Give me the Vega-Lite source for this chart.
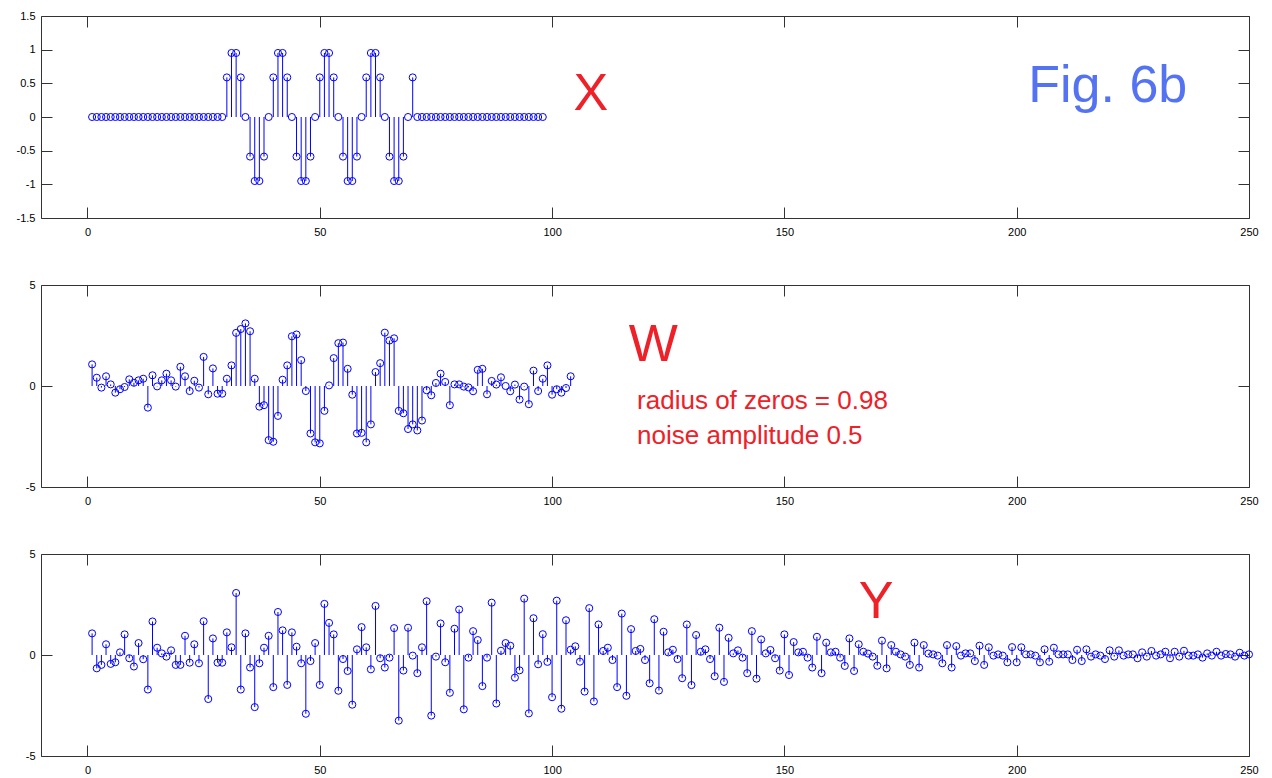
{
"$schema": "https://vega.github.io/schema/vega-lite/v6.json",
"padding": {"left": 15, "top": 9, "right": 5, "bottom": 0},
"background": "white",
"spacing": 67,
"bounds": "flush",
"config": {
  "view": {"stroke": "#333", "strokeWidth": 1},
  "axis": {"domain": false, "grid": false, "tickSize": -11, "tickColor": "#333", "labelFont": "Liberation Sans", "labelFontSize": 11, "labelColor": "#000", "labelFlush": false, "labelOverlap": false, "labelExpr": "toString(datum.value)"},
  "axisBottom": {"labelPadding": 19},
  "axisLeft": {"labelPadding": 17},
  "text": {"font": "Liberation Sans", "align": "left", "baseline": "alphabetic"}
},
"datasets": {
"X": [{"n":1,"v":0},{"n":2,"v":0},{"n":3,"v":0},{"n":4,"v":0},{"n":5,"v":0},{"n":6,"v":0},{"n":7,"v":0},{"n":8,"v":0},{"n":9,"v":0},{"n":10,"v":0},{"n":11,"v":0},{"n":12,"v":0},{"n":13,"v":0},{"n":14,"v":0},{"n":15,"v":0},{"n":16,"v":0},{"n":17,"v":0},{"n":18,"v":0},{"n":19,"v":0},{"n":20,"v":0},{"n":21,"v":0},{"n":22,"v":0},{"n":23,"v":0},{"n":24,"v":0},{"n":25,"v":0},{"n":26,"v":0},{"n":27,"v":0},{"n":28,"v":0},{"n":29,"v":0},
{"n":30,"v":0.588},{"n":31,"v":0.951},{"n":32,"v":0.951},{"n":33,"v":0.588},{"n":34,"v":0},{"n":35,"v":-0.588},{"n":36,"v":-0.951},{"n":37,"v":-0.951},{"n":38,"v":-0.588},{"n":39,"v":0},
{"n":40,"v":0.588},{"n":41,"v":0.951},{"n":42,"v":0.951},{"n":43,"v":0.588},{"n":44,"v":0},{"n":45,"v":-0.588},{"n":46,"v":-0.951},{"n":47,"v":-0.951},{"n":48,"v":-0.588},{"n":49,"v":0},
{"n":50,"v":0.588},{"n":51,"v":0.951},{"n":52,"v":0.951},{"n":53,"v":0.588},{"n":54,"v":0},{"n":55,"v":-0.588},{"n":56,"v":-0.951},{"n":57,"v":-0.951},{"n":58,"v":-0.588},{"n":59,"v":0},
{"n":60,"v":0.588},{"n":61,"v":0.951},{"n":62,"v":0.951},{"n":63,"v":0.588},{"n":64,"v":0},{"n":65,"v":-0.588},{"n":66,"v":-0.951},{"n":67,"v":-0.951},{"n":68,"v":-0.588},{"n":69,"v":0},
{"n":70,"v":0.588},{"n":71,"v":0},{"n":72,"v":0},{"n":73,"v":0},{"n":74,"v":0},{"n":75,"v":0},{"n":76,"v":0},{"n":77,"v":0},{"n":78,"v":0},{"n":79,"v":0},{"n":80,"v":0},{"n":81,"v":0},{"n":82,"v":0},{"n":83,"v":0},{"n":84,"v":0},{"n":85,"v":0},{"n":86,"v":0},{"n":87,"v":0},{"n":88,"v":0},{"n":89,"v":0},{"n":90,"v":0},{"n":91,"v":0},{"n":92,"v":0},{"n":93,"v":0},{"n":94,"v":0},{"n":95,"v":0},{"n":96,"v":0},{"n":97,"v":0},{"n":98,"v":0}],
"W": [{"n":1,"v":1.07},{"n":2,"v":0.41},{"n":3,"v":-0.08},{"n":4,"v":0.48},{"n":5,"v":0.08},{"n":6,"v":-0.33},{"n":7,"v":-0.16},{"n":8,"v":-0.05},{"n":9,"v":0.33},{"n":10,"v":0.16},
{"n":11,"v":0.28},{"n":12,"v":0.36},{"n":13,"v":-1.07},{"n":14,"v":0.53},{"n":15,"v":-0.02},{"n":16,"v":0.28},{"n":17,"v":0.61},{"n":18,"v":0.28},{"n":19,"v":-0.03},{"n":20,"v":0.95},
{"n":21,"v":0.48},{"n":22,"v":-0.25},{"n":23,"v":0.26},{"n":24,"v":-0.08},{"n":25,"v":1.44},{"n":26,"v":-0.41},{"n":27,"v":0.87},{"n":28,"v":-0.38},{"n":29,"v":-0.38},{"n":30,"v":0.36},
{"n":31,"v":1.02},{"n":32,"v":2.63},{"n":33,"v":2.82},{"n":34,"v":3.10},{"n":35,"v":2.71},{"n":36,"v":0.36},{"n":37,"v":-1.02},{"n":38,"v":-0.95},{"n":39,"v":-2.68},{"n":40,"v":-2.76},
{"n":41,"v":-1.48},{"n":42,"v":0.31},{"n":43,"v":1.02},{"n":44,"v":2.46},{"n":45,"v":2.55},{"n":46,"v":1.28},{"n":47,"v":-0.25},{"n":48,"v":-2.35},{"n":49,"v":-2.79},{"n":50,"v":-2.84},
{"n":51,"v":-1.23},{"n":52,"v":0.03},{"n":53,"v":1.38},{"n":54,"v":2.12},{"n":55,"v":2.15},{"n":56,"v":0.85},{"n":57,"v":-0.43},{"n":58,"v":-2.35},{"n":59,"v":-2.32},{"n":60,"v":-2.79},
{"n":61,"v":-1.90},{"n":62,"v":0.69},{"n":63,"v":1.13},{"n":64,"v":2.64},{"n":65,"v":2.25},{"n":66,"v":2.36},{"n":67,"v":-1.23},{"n":68,"v":-1.35},{"n":69,"v":-2.13},{"n":70,"v":-1.90},
{"n":71,"v":-2.20},{"n":72,"v":-1.71},{"n":73,"v":-0.21},{"n":74,"v":-0.46},{"n":75,"v":0.15},{"n":76,"v":0.61},{"n":77,"v":0.20},{"n":78,"v":-0.95},{"n":79,"v":0.08},{"n":80,"v":0.08},
{"n":81,"v":-0.03},{"n":82,"v":-0.07},{"n":83,"v":-0.26},{"n":84,"v":0.80},{"n":85,"v":0.85},{"n":86,"v":-0.41},{"n":87,"v":0.25},{"n":88,"v":0.07},{"n":89,"v":0.43},{"n":90,"v":0.00},
{"n":91,"v":-0.26},{"n":92,"v":0.07},{"n":93,"v":-0.67},{"n":94,"v":-0.03},{"n":95,"v":-0.90},{"n":96,"v":0.76},{"n":97,"v":-0.25},{"n":98,"v":0.36},{"n":99,"v":1.02},{"n":100,"v":-0.43},
{"n":101,"v":-0.16},{"n":102,"v":-0.33},{"n":103,"v":-0.10},{"n":104,"v":0.48}],
"Y": [{"n":1,"v":1.07},{"n":2,"v":-0.66},{"n":3,"v":-0.49},{"n":4,"v":0.53},{"n":5,"v":-0.44},{"n":6,"v":-0.36},{"n":7,"v":0.13},{"n":8,"v":1.02},{"n":9,"v":-0.16},{"n":10,"v":-0.57},
{"n":11,"v":0.59},{"n":12,"v":-0.21},{"n":13,"v":-1.71},{"n":14,"v":1.66},{"n":15,"v":0.36},{"n":16,"v":0.08},{"n":17,"v":-0.08},{"n":18,"v":0.23},{"n":19,"v":-0.49},{"n":20,"v":-0.49},
{"n":21,"v":0.95},{"n":22,"v":-0.38},{"n":23,"v":0.53},{"n":24,"v":-0.41},{"n":25,"v":1.67},{"n":26,"v":-2.18},{"n":27,"v":0.82},{"n":28,"v":-0.38},{"n":29,"v":-0.38},{"n":30,"v":1.12},
{"n":31,"v":0.38},{"n":32,"v":3.07},{"n":33,"v":-1.71},{"n":34,"v":1.07},{"n":35,"v":-0.62},{"n":36,"v":-2.58},{"n":37,"v":-0.41},{"n":38,"v":0.36},{"n":39,"v":0.95},{"n":40,"v":-1.59},
{"n":41,"v":2.13},{"n":42,"v":1.22},{"n":43,"v":-1.48},{"n":44,"v":1.12},{"n":45,"v":0.41},{"n":46,"v":-0.41},{"n":47,"v":-2.91},{"n":48,"v":-0.30},{"n":49,"v":0.59},{"n":50,"v":-1.48},
{"n":51,"v":2.53},{"n":52,"v":1.59},{"n":53,"v":1.02},{"n":54,"v":-1.77},{"n":55,"v":-0.20},{"n":56,"v":-0.79},{"n":57,"v":-2.46},{"n":58,"v":0.28},{"n":59,"v":1.38},{"n":60,"v":0.38},
{"n":61,"v":-0.71},{"n":62,"v":2.43},{"n":63,"v":-0.16},{"n":64,"v":-0.62},{"n":65,"v":-0.13},{"n":66,"v":1.33},{"n":67,"v":-3.25},{"n":68,"v":-0.77},{"n":69,"v":1.35},{"n":70,"v":-0.03},
{"n":71,"v":-0.90},{"n":72,"v":0.38},{"n":73,"v":2.66},{"n":74,"v":-3.00},{"n":75,"v":-0.08},{"n":76,"v":1.56},{"n":77,"v":-0.36},{"n":78,"v":-1.87},{"n":79,"v":1.30},{"n":80,"v":2.25},
{"n":81,"v":-2.69},{"n":82,"v":-0.13},{"n":83,"v":1.18},{"n":84,"v":0.74},{"n":85,"v":-1.54},{"n":86,"v":-0.13},{"n":87,"v":2.59},{"n":88,"v":-2.40},{"n":89,"v":0.21},{"n":90,"v":0.59},
{"n":91,"v":0.46},{"n":92,"v":-1.12},{"n":93,"v":-0.76},{"n":94,"v":2.79},{"n":95,"v":-2.89},{"n":96,"v":1.82},{"n":97,"v":-0.46},{"n":98,"v":1.03},{"n":99,"v":-0.34},{"n":100,"v":-2.09},
{"n":101,"v":2.69},{"n":102,"v":-2.66},{"n":103,"v":1.72},{"n":104,"v":0.26},{"n":105,"v":0.43},{"n":106,"v":-0.33},{"n":107,"v":-1.81},{"n":108,"v":2.32},{"n":109,"v":-2.30},{"n":110,"v":1.51},
{"n":111,"v":0.20},{"n":112,"v":0.36},{"n":113,"v":-0.25},{"n":114,"v":-1.59},{"n":115,"v":2.05},{"n":116,"v":-2.02},{"n":117,"v":1.28},{"n":118,"v":0.20},{"n":119,"v":0.30},{"n":120,"v":-0.25},
{"n":121,"v":-1.40},{"n":122,"v":1.77},{"n":123,"v":-1.76},{"n":124,"v":1.15},{"n":125,"v":0.13},{"n":126,"v":0.26},{"n":127,"v":-0.20},{"n":128,"v":-1.15},{"n":129,"v":1.51},{"n":130,"v":-1.49},
{"n":131,"v":0.99},{"n":132,"v":0.16},{"n":133,"v":0.28},{"n":134,"v":-0.20},{"n":135,"v":-1.05},{"n":136,"v":1.35},{"n":137,"v":-1.33},{"n":138,"v":0.85},{"n":139,"v":0.08},{"n":140,"v":0.23},
{"n":141,"v":-0.13},{"n":142,"v":-0.90},{"n":143,"v":1.18},{"n":144,"v":-1.17},{"n":145,"v":0.77},{"n":146,"v":0.08},{"n":147,"v":0.25},{"n":148,"v":-0.16},{"n":149,"v":-0.77},{"n":150,"v":1.02},
{"n":151,"v":-0.99},{"n":152,"v":0.64},{"n":153,"v":0.13},{"n":154,"v":0.16},{"n":155,"v":-0.13},{"n":156,"v":-0.62},{"n":157,"v":0.90},{"n":158,"v":-0.90},{"n":159,"v":0.61},{"n":160,"v":0.13},
{"n":161,"v":0.16},{"n":162,"v":-0.13},{"n":163,"v":-0.54},{"n":164,"v":0.82},{"n":165,"v":-0.79},{"n":166,"v":0.53},{"n":167,"v":0.16},{"n":168,"v":0.07},{"n":169,"v":-0.08},{"n":170,"v":-0.53},
{"n":171,"v":0.71},{"n":172,"v":-0.66},{"n":173,"v":0.49},{"n":174,"v":0.16},{"n":175,"v":0.03},{"n":176,"v":-0.08},{"n":177,"v":-0.49},{"n":178,"v":0.61},{"n":179,"v":-0.62},{"n":180,"v":0.49},
{"n":181,"v":0.07},{"n":182,"v":0.03},{"n":183,"v":-0.03},{"n":184,"v":-0.41},{"n":185,"v":0.49},{"n":186,"v":-0.62},{"n":187,"v":0.44},{"n":188,"v":-0.03},{"n":189,"v":0.08},{"n":190,"v":0.08},
{"n":191,"v":-0.30},{"n":192,"v":0.46},{"n":193,"v":-0.49},{"n":194,"v":0.38},{"n":195,"v":-0.03},{"n":196,"v":0.03},{"n":197,"v":-0.03},{"n":198,"v":-0.36},{"n":199,"v":0.39},{"n":200,"v":-0.36},
{"n":201,"v":0.38},{"n":202,"v":0.03},{"n":203,"v":0.03},{"n":204,"v":-0.03},{"n":205,"v":-0.36},{"n":206,"v":0.28},{"n":207,"v":-0.33},{"n":208,"v":0.36},{"n":209,"v":0.03},{"n":210,"v":0.03},
{"n":211,"v":0.03},{"n":212,"v":-0.25},{"n":213,"v":0.26},{"n":214,"v":-0.30},{"n":215,"v":0.28},{"n":216,"v":-0.08},{"n":217,"v":0.03},{"n":218,"v":-0.03},{"n":219,"v":-0.20},{"n":220,"v":0.23},
{"n":221,"v":-0.08},{"n":222,"v":0.23},{"n":223,"v":-0.03},{"n":224,"v":0.03},{"n":225,"v":0.03},{"n":226,"v":-0.16},{"n":227,"v":0.13},{"n":228,"v":-0.08},{"n":229,"v":0.20},{"n":230,"v":-0.03},
{"n":231,"v":0.03},{"n":232,"v":0.16},{"n":233,"v":-0.16},{"n":234,"v":0.16},{"n":235,"v":-0.08},{"n":236,"v":0.21},{"n":237,"v":-0.03},{"n":238,"v":-0.03},{"n":239,"v":0.03},{"n":240,"v":-0.13},
{"n":241,"v":0.08},{"n":242,"v":-0.03},{"n":243,"v":0.16},{"n":244,"v":-0.03},{"n":245,"v":0.05},{"n":246,"v":0.03},{"n":247,"v":-0.08},{"n":248,"v":0.11},{"n":249,"v":-0.03},{"n":250,"v":0.03}]
},
"vconcat": [
{
  "width": 1208, "height": 202,
  "data": {"name": "X"},
  "layer": [
    {"mark": {"type": "rule", "color": "blue", "strokeWidth": 1},
     "encoding": {
       "x": {"field": "n", "type": "quantitative", "scale": {"domain": [-10, 250], "nice": false, "zero": false}, "axis": {"orient": "bottom", "values": [0, 50, 100, 150, 200, 250], "title": null}},
       "y": {"field": "v", "type": "quantitative", "scale": {"domain": [-1.5, 1.5], "nice": false}, "axis": {"orient": "left", "values": [-1.5, -1, -0.5, 0, 0.5, 1, 1.5], "title": null}},
       "y2": {"datum": 0}}},
    {"mark": {"type": "point", "shape": "circle", "filled": false, "color": "blue", "size": 50, "strokeWidth": 1, "opacity": 1},
     "encoding": {
       "x": {"field": "n", "type": "quantitative", "axis": {"orient": "top", "values": [0, 50, 100, 150, 200, 250], "labels": false, "title": null}},
       "y": {"field": "v", "type": "quantitative", "axis": {"orient": "right", "values": [-1.5, -1, -0.5, 0, 0.5, 1, 1.5], "labels": false, "title": null}}}},
    {"data": {"values": [{"n": 104.6, "v": 0.10, "t": "X", "c": "r"}, {"n": 202.5, "v": 0.227, "t": "Fig. 6b", "c": "b"}]},
     "mark": {"type": "text", "fontSize": 52},
     "encoding": {
       "x": {"field": "n", "type": "quantitative", "axis": null},
       "y": {"field": "v", "type": "quantitative", "axis": null},
       "text": {"field": "t"},
       "color": {"field": "c", "type": "nominal", "scale": {"domain": ["r", "b"], "range": ["#ee2028", "#5373f2"]}, "legend": null}}}
  ],
  "resolve": {"axis": {"x": "independent", "y": "independent"}}
},
{
  "width": 1208, "height": 202,
  "data": {"name": "W"},
  "layer": [
    {"mark": {"type": "rule", "color": "blue", "strokeWidth": 1},
     "encoding": {
       "x": {"field": "n", "type": "quantitative", "scale": {"domain": [-10, 250], "nice": false, "zero": false}, "axis": {"orient": "bottom", "values": [0, 50, 100, 150, 200, 250], "title": null}},
       "y": {"field": "v", "type": "quantitative", "scale": {"domain": [-5, 5], "nice": false}, "axis": {"orient": "left", "values": [-5, 0, 5], "title": null}},
       "y2": {"datum": 0}}},
    {"mark": {"type": "point", "shape": "circle", "filled": false, "color": "blue", "size": 50, "strokeWidth": 1, "opacity": 1},
     "encoding": {
       "x": {"field": "n", "type": "quantitative", "axis": {"orient": "top", "values": [0, 50, 100, 150, 200, 250], "labels": false, "title": null}},
       "y": {"field": "v", "type": "quantitative", "axis": {"orient": "right", "values": [-5, 0, 5], "labels": false, "title": null}}}},
    {"data": {"values": [{"n": 116.5, "v": 1.25, "t": "W"}]},
     "mark": {"type": "text", "fontSize": 52, "color": "#ee2028"},
     "encoding": {
       "x": {"field": "n", "type": "quantitative", "axis": null},
       "y": {"field": "v", "type": "quantitative", "axis": null},
       "text": {"field": "t"}}},
    {"data": {"values": [{"n": 118.3, "v": -1.12, "t": "radius of zeros = 0.98"}, {"n": 118.3, "v": -2.88, "t": "noise amplitude 0.5"}]},
     "mark": {"type": "text", "fontSize": 26, "color": "#ee2028"},
     "encoding": {
       "x": {"field": "n", "type": "quantitative", "axis": null},
       "y": {"field": "v", "type": "quantitative", "axis": null},
       "text": {"field": "t"}}}
  ],
  "resolve": {"axis": {"x": "independent", "y": "independent"}}
},
{
  "width": 1208, "height": 202,
  "data": {"name": "Y"},
  "layer": [
    {"mark": {"type": "rule", "color": "blue", "strokeWidth": 1},
     "encoding": {
       "x": {"field": "n", "type": "quantitative", "scale": {"domain": [-10, 250], "nice": false, "zero": false}, "axis": {"orient": "bottom", "values": [0, 50, 100, 150, 200, 250], "title": null}},
       "y": {"field": "v", "type": "quantitative", "scale": {"domain": [-5, 5], "nice": false}, "axis": {"orient": "left", "values": [-5, 0, 5], "title": null}},
       "y2": {"datum": 0}}},
    {"mark": {"type": "point", "shape": "circle", "filled": false, "color": "blue", "size": 50, "strokeWidth": 1, "opacity": 1},
     "encoding": {
       "x": {"field": "n", "type": "quantitative", "axis": {"orient": "top", "values": [0, 50, 100, 150, 200, 250], "labels": false, "title": null}},
       "y": {"field": "v", "type": "quantitative", "axis": {"orient": "right", "values": [-5, 0, 5], "labels": false, "title": null}}}},
    {"data": {"values": [{"n": 166.0, "v": 1.84, "t": "Y"}]},
     "mark": {"type": "text", "fontSize": 52, "color": "#ee2028"},
     "encoding": {
       "x": {"field": "n", "type": "quantitative", "axis": null},
       "y": {"field": "v", "type": "quantitative", "axis": null},
       "text": {"field": "t"}}}
  ],
  "resolve": {"axis": {"x": "independent", "y": "independent"}}
}
]
}
